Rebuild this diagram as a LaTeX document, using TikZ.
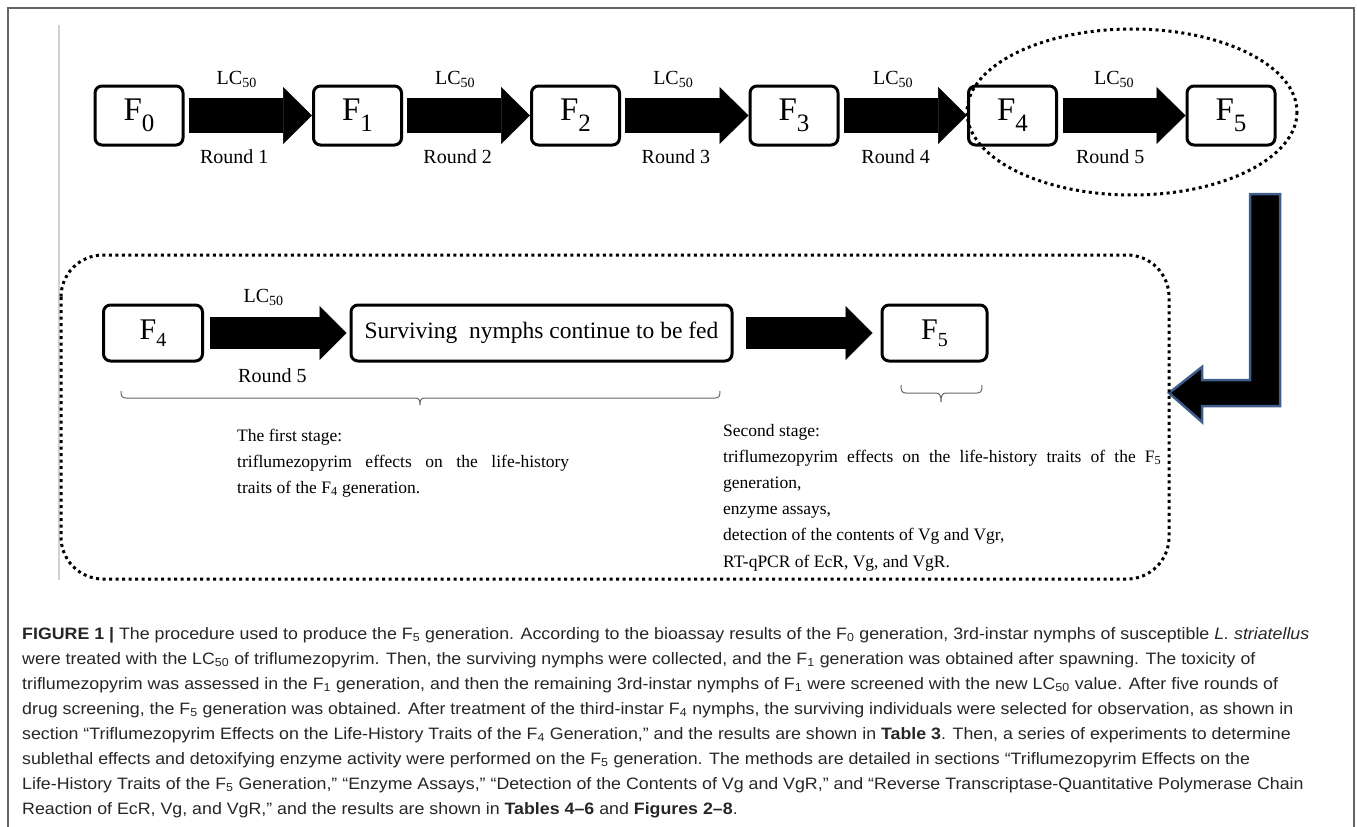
\documentclass[tikz,border=0pt]{standalone}
\usepackage{fontspec}
\setmainfont{Liberation Serif}
\newfontfamily\capfont{Liberation Sans}
\usepackage{xcolor}
\usepackage{tikz}
\usetikzlibrary{arrows.meta}
\definecolor{arrowblue}{RGB}{62,93,138}
\definecolor{framegray}{RGB}{100,100,100}
\newcommand{\gen}[1]{F\raisebox{-.33em}{\fontsize{25}{25}\selectfont#1}}
\newcommand{\genlow}[1]{F\raisebox{-.23em}{\fontsize{20}{20}\selectfont#1}}
\newcommand{\capsx}{1.078}
\newcommand{\capline}[1]{\scalebox{\capsx}[1]{#1}}
\tikzset{
  genbox/.style={draw=black, line width=3pt, rounded corners=7pt, fill=white, minimum width=88pt, minimum height=59pt, inner sep=0pt, font=\fontsize{33}{33}\selectfont},
  genboxlow/.style={genbox, minimum height=56pt, font=\fontsize{30}{30}\selectfont},
  fatarrow/.style={line width=35pt, draw=black, -{Triangle[length=29pt,width=57pt,line width'=0.5pt]}, shorten <=4pt},
  fatarrowlow/.style={line width=32pt, draw=black, -{Triangle[length=27pt,width=54pt,line width'=0.5pt]}},
  lctop/.style={anchor=base, yshift=31pt, inner sep=0pt, font=\fontsize{20}{20}\selectfont},
  roundlbl/.style={anchor=base, yshift=-47.5pt, inner sep=0pt, font=\fontsize{20}{20}\selectfont},
  dotline/.style={line width=3pt, dash pattern=on 3pt off 3.5pt},
  stbrace/.style={draw=black!60, line width=1pt},
  stagetxt/.style={anchor=base west, inner sep=0pt, font=\fontsize{17.5}{26}\selectfont},
  captxt/.style={anchor=base west, inner sep=0pt, text=black!85, font=\capfont\fontsize{16.5}{25}\selectfont},
}

\begin{document}
\begin{tikzpicture}[x=1pt,y=-1pt]
\useasboundingbox (0,0) rectangle (1357,827);
\draw[framegray, line width=1.5pt] (8,830) -- (8,8) -- (1354,8) -- (1354,830);
\draw[black!18, line width=1.5pt] (59,25) -- (59,580);

\node[genbox] (f0) at (139,115.5) {\gen{0}};
\node[genbox] (f1) at (357.5,115.5) {\gen{1}};
\node[genbox] (f2) at (575.5,115.5) {\gen{2}};
\node[genbox] (f3) at (794,115.5) {\gen{3}};
\node[genbox] (f4) at (1012.5,115.5) {\gen{4}};
\node[genbox] (f5) at (1231,115.5) {\gen{5}};
\draw[fatarrow] (f0) -- node[lctop, pos=.41]{LC\textsubscript{50}} node[roundlbl, pos=.39]{Round 1} (f1);
\draw[fatarrow] (f1) -- node[lctop, pos=.41]{LC\textsubscript{50}} node[roundlbl, pos=.43]{Round 2} (f2);
\draw[fatarrow] (f2) -- node[lctop, pos=.41]{LC\textsubscript{50}} node[roundlbl, pos=.43]{Round 3} (f3);
\draw[fatarrow] (f3) -- node[lctop, pos=.42]{LC\textsubscript{50}} node[roundlbl, pos=.44]{Round 4} (f4);
\draw[fatarrow, shorten <=5pt] (f4) -- node[lctop, pos=.44]{LC\textsubscript{50}} node[roundlbl, pos=.41]{Round 5} (f5);
\draw[dotline] (1132,112) ellipse [x radius=165, y radius=83];

\draw[arrowblue, line width=2.5pt, fill=black, line join=miter] (1250,194) -- (1280,194) -- (1280,406) -- (1202,406) -- (1202,422) -- (1169,393) -- (1202,367) -- (1202,380) -- (1250,380) -- cycle;
\draw[dotline, rounded corners=42pt] (61,255) rectangle (1169,579);

\node[genboxlow, minimum width=99pt] (f4b) at (153,333) {\genlow{4}};
\node[genboxlow, minimum width=381pt, font=\fontsize{23.5}{25}\selectfont] (surv) at (541.5,333) {Surviving\ \ nymphs continue to be fed};
\node[genboxlow, minimum width=105pt] (f5b) at (934.5,333) {\genlow{5}};
\draw[fatarrowlow, shorten <=6pt, shorten >=3pt] (f4b) -- node[lctop, pos=.41]{LC\textsubscript{50}} node[roundlbl, yshift=-1.5pt, pos=.47]{Round 5} (surv);
\draw[fatarrowlow, shorten <=12pt, shorten >=8pt] (surv) -- (f5b);

\coordinate (b1l) at (121,391);
\coordinate (b1t) at (420,405);
\coordinate (b1r) at (720,391);
\coordinate (b2l) at (901,385);
\coordinate (b2t) at (941,402);
\coordinate (b2r) at (982,385);
\draw[stbrace] (b1l) .. controls (121,396) and (122,398) .. (126,398) -- (415,398) .. controls (419,398) and (420,400) .. (b1t) .. controls (420,400) and (421,398) .. (425,398) -- (715,398) .. controls (719,398) and (720,396) .. (b1r);
\draw[stbrace] (b2l) .. controls (901,391) and (902,393) .. (906,393) -- (936,393) .. controls (940,393) and (941,396) .. (b2t) .. controls (941,396) and (942,393) .. (946,393) -- (977,393) .. controls (981,393) and (982,391) .. (b2r);

\node[stagetxt] (s1a) at (237,441) {The first stage:};
\node[stagetxt] (s1b) at (237,467) {\makebox[332pt][s]{triflumezopyrim effects on the life-history}};
\node[stagetxt] (s1c) at (237,493) {traits of the F\textsubscript{4} generation.};
\node[stagetxt] (s2a) at (723,436) {Second stage:};
\node[stagetxt] (s2b) at (723,462) {\makebox[438pt][s]{triflumezopyrim effects on the life-history traits of the F\textsubscript{5}}};
\node[stagetxt] (s2c) at (723,488) {generation,};
\node[stagetxt] (s2d) at (723,514) {enzyme assays,};
\node[stagetxt] (s2e) at (723,540) {detection of the contents of Vg and Vgr,};
\node[stagetxt] (s2f) at (723,567) {RT-qPCR of EcR, Vg, and VgR.};

\node[captxt] (c1) at (22,639) {\capline{\textbf{FIGURE 1 |} The procedure used to produce the F\textsubscript{5} generation. According to the bioassay results of the F\textsubscript{0} generation, 3rd-instar nymphs of susceptible \textit{L. striatellus}}};
\node[captxt] (c2) at (22,664) {\capline{were treated with the LC\textsubscript{50} of triflumezopyrim. Then, the surviving nymphs were collected, and the F\textsubscript{1} generation was obtained after spawning. The toxicity of}};
\node[captxt] (c3) at (22,689) {\capline{triflumezopyrim was assessed in the F\textsubscript{1} generation, and then the remaining 3rd-instar nymphs of F\textsubscript{1} were screened with the new LC\textsubscript{50} value. After five rounds of}};
\node[captxt] (c4) at (22,714) {\capline{drug screening, the F\textsubscript{5} generation was obtained. After treatment of the third-instar F\textsubscript{4} nymphs, the surviving individuals were selected for observation, as shown in}};
\node[captxt] (c5) at (22,739) {\capline{section “Triflumezopyrim Effects on the Life-History Traits of the F\textsubscript{4} Generation,” and the results are shown in \textbf{Table 3}. Then, a series of experiments to determine}};
\node[captxt] (c6) at (22,764) {\capline{sublethal effects and detoxifying enzyme activity were performed on the F\textsubscript{5} generation. The methods are detailed in sections “Triflumezopyrim Effects on the}};
\node[captxt] (c7) at (22,789) {\capline{Life-History Traits of the F\textsubscript{5} Generation,” “Enzyme Assays,” “Detection of the Contents of Vg and VgR,” and “Reverse Transcriptase-Quantitative Polymerase Chain}};
\node[captxt] (c8) at (22,814) {\capline{Reaction of EcR, Vg, and VgR,” and the results are shown in \textbf{Tables 4–6} and \textbf{Figures 2–8}.}};
\end{tikzpicture}
\end{document}
